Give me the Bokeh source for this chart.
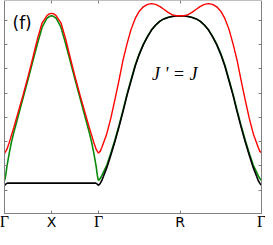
from bokeh.plotting import figure
from bokeh.models import Range1d, FixedTicker, LinearAxis, Label
from bokeh.embed import file_html
from bokeh.resources import INLINE
from bokeh.core.properties import value

# high-symmetry points along the path (|Γ–X| = 1, |Γ–R| = √3)
sym_pos = [0.0, 1.0, 2.0, 3.732, 5.464]
sym_labels = ["Γ", "X", "Γ", "R", "Γ"]
seg_gr = 1.732

# Γ→X half (mirrored for X→Γ)
gx_s_red = [0, 0.05, 0.1, 0.2, 0.3, 0.4, 0.5, 0.6, 0.7, 0.8, 0.9, 0.95, 1.0]
gx_red = [2.52, 2.68, 2.96, 3.60, 4.28, 4.96, 5.68, 6.44, 7.24, 7.90, 8.19, 8.27, 8.29]
gx_s_green = [0, 0.01, 0.025, 0.05, 0.1, 0.15, 0.2, 0.3, 0.4, 0.5, 0.6, 0.7, 0.8, 0.9, 0.95, 1.0]
gx_green = [1.40, 1.45, 1.60, 1.96, 2.52, 3.00, 3.40, 4.12, 4.84, 5.56, 6.30, 7.04, 7.72, 8.08, 8.16, 8.19]
gx_s_black = [0, 0.02, 0.06, 0.3, 0.6, 1.0]
gx_black = [1.20, 1.24, 1.29, 1.29, 1.29, 1.29]

# Γ→R half (fraction of the segment; mirrored for R→Γ)
gr_u = [0, 0.02, 0.04, 0.1, 0.15, 0.2, 0.25, 0.3, 0.35, 0.4, 0.45, 0.5, 0.55,
        0.6, 0.65, 0.7, 0.75, 0.8, 0.85, 0.9, 0.95, 1.0]
gr_red = [2.54, 2.60, 2.76, 3.32, 3.96, 4.72, 5.52, 6.36, 7.04, 7.64, 8.08, 8.38, 8.56,
          8.66, 8.69, 8.66, 8.58, 8.46, 8.34, 8.24, 8.19, 8.19]
gr_green = [1.40, 1.48, 1.60, 2.02, 2.52, 3.07, 3.66, 4.30, 4.97, 5.57, 6.16, 6.63, 7.02,
            7.34, 7.61, 7.81, 7.96, 8.06, 8.12, 8.16, 8.18, 8.19]
gr_black = [1.20, 1.28, 1.40, 1.92, 2.44, 3.00, 3.60, 4.24, 4.92, 5.52, 6.12, 6.60, 7.00,
            7.32, 7.60, 7.80, 7.96, 8.06, 8.12, 8.16, 8.18, 8.19]

y_ticks = [1, 2, 3, 4, 5, 6, 7, 8]
y_lo, y_hi = 0.04, 8.8


def full_path(gx_s, gx_v, gr_v):
    xs = list(gx_s) + [sym_pos[2] - s for s in reversed(gx_s)]
    ys = list(gx_v) + list(reversed(gx_v))
    xs += [sym_pos[2] + seg_gr * u for u in gr_u]
    ys += list(gr_v)
    xs += [sym_pos[4] - seg_gr * u for u in reversed(gr_u)]
    ys += list(reversed(gr_v))
    return xs, ys


FRAME = "#808080"

p = figure(width=265, height=229,
           x_range=Range1d(-0.085, sym_pos[-1] + 0.085), y_range=Range1d(-0.62, y_hi + 0.02),
           output_backend="svg", toolbar_location=None,
           min_border_left=0, min_border_right=0, min_border_top=0, min_border_bottom=0)
p.grid.visible = False
p.outline_line_color = None
p.background_fill_color = "white"
p.border_fill_color = "white"


def style_axis(ax, tick_len=3):
    ax.major_label_text_font_size = "1px"
    ax.major_label_text_alpha = 0
    ax.major_label_standoff = 0
    ax.major_tick_in = tick_len
    ax.major_tick_out = 0
    ax.minor_tick_line_color = None
    ax.axis_line_color = FRAME
    ax.axis_line_width = 1
    ax.major_tick_line_color = FRAME


# bottom axis (frame bottom) at y_lo
xa = p.xaxis[0]
xa.ticker = FixedTicker(ticks=sym_pos)
style_axis(xa)
xa.fixed_location = y_lo
xa.bounds = (sym_pos[0], sym_pos[-1])
xa.major_label_overrides = {t: "" for t in sym_pos}

# left axis at x = Γ
ya = p.yaxis[0]
ya.ticker = FixedTicker(ticks=y_ticks)
style_axis(ya)
ya.fixed_location = sym_pos[0]
ya.bounds = (y_lo, y_hi)
ya.major_label_overrides = {t: "" for t in y_ticks}

# right axis at last Γ
ra = LinearAxis(ticker=FixedTicker(ticks=y_ticks))
style_axis(ra)
ra.fixed_location = sym_pos[-1]
ra.bounds = (y_lo, y_hi)
ra.major_label_overrides = {t: "" for t in y_ticks}
p.add_layout(ra, "right")

# top axis
ta = LinearAxis(ticker=FixedTicker(ticks=sym_pos[1:4]))
style_axis(ta)
ta.fixed_location = y_hi
ta.bounds = (sym_pos[0], sym_pos[-1])
ta.major_label_overrides = {t: "" for t in sym_pos[1:4]}
p.add_layout(ta, "above")

# curves
rx, ry = full_path(gx_s_red, gx_red, gr_red)
gxx, gyy = full_path(gx_s_green, gx_green, gr_green)
bx, by = full_path(gx_s_black, gx_black, gr_black)
p.line(gxx, gyy, line_color="#0a8a0a", line_width=1.6)
p.line(bx, by, line_color="black", line_width=1.6)
p.line(rx, ry, line_color="#ff0000", line_width=1.4)

# tick labels: Γ in serif, X and R in sans
serif_idx = [i for i in range(len(sym_labels)) if sym_labels[i] == "Γ"]
sans_idx = [i for i in range(len(sym_labels)) if sym_labels[i] != "Γ"]
label_y = -0.31
p.text(x=[sym_pos[i] for i in serif_idx], y=[label_y] * len(serif_idx),
       text=[sym_labels[i] for i in serif_idx], text_align="center", text_baseline="middle",
       text_font=value("Liberation Serif"), text_font_size="16px", text_color="black")
p.text(x=[sym_pos[i] for i in sans_idx], y=[label_y] * len(sans_idx),
       text=[sym_labels[i] for i in sans_idx], text_align="center", text_baseline="middle",
       text_font=value("DejaVu Sans"), text_font_size="14px", text_color="black")

p.add_layout(Label(x=0.17, y=7.9, text="(f)", text_baseline="middle", text_align="left",
                   text_font="DejaVu Sans", text_font_size="17px", text_color="black"))
p.add_layout(Label(x=3.62, y=5.8, text="J ' = J", text_baseline="middle", text_align="center",
                   text_font="Liberation Serif", text_font_style="italic",
                   text_font_size="18px", text_color="black"))

open("out.html", "w").write(file_html(p, INLINE))
